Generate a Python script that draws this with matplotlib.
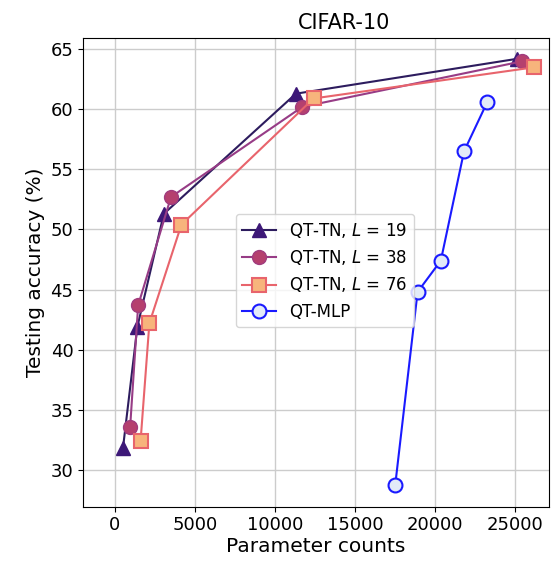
import matplotlib
matplotlib.use("Agg")
import matplotlib.pyplot as plt

# parameter counts / accuracies
params_l19 = [500, 1400, 3050, 11300, 25100]
acc_l19 = [31.8, 41.9, 51.3, 61.3, 64.2]
params_l38 = [950, 1450, 3500, 11700, 25450]
acc_l38 = [33.6, 43.7, 52.7, 60.2, 64.0]
params_l76 = [1600, 2150, 4150, 12400, 26200]
acc_l76 = [32.4, 42.2, 50.4, 60.9, 63.5]
params_mlp = [17500, 18900, 20350, 21800, 23250]
acc_mlp = [28.7, 44.8, 47.4, 56.5, 60.6]

fig = plt.figure(figsize=(5.55, 5.71), dpi=100)
ax = fig.add_axes([0.150, 0.1126, 0.839, 0.8217])

ax.plot(params_l19, acc_l19, "-^", color="#2d1c5e", mfc="#3d1878", mec="#3d1878",
        ms=10, lw=1.5, label=r"QT-TN, $L$ = 19")
ax.plot(params_l38, acc_l38, "-o", color="#973c86", mfc="#b5406e", mec="#a13c7e",
        ms=10, lw=1.5, label=r"QT-TN, $L$ = 38")
ax.plot(params_l76, acc_l76, "-s", color="#e8646c", mfc="#f7b47c", mec="#e8646c",
        ms=10, lw=1.5, mew=1.5, label=r"QT-TN, $L$ = 76")
ax.plot(params_mlp, acc_mlp, "-o", color="#1a1aff", mfc="#e3ebf8", mec="#1a1aff",
        ms=10, lw=1.5, mew=1.5, label="QT-MLP")

ax.set_xlim(-1980, 27100)
ax.set_xticks([0, 5000, 10000, 15000, 20000, 25000])
ax.set_yticks([30, 35, 40, 45, 50, 55, 60, 65])
ax.grid(True, color="#cccccc", lw=1)
ax.tick_params(labelsize=13)
ax.set_xlabel("Parameter counts", fontsize=14.5, labelpad=2)
ax.set_ylabel("Testing accuracy (%)", fontsize=14.5, labelpad=4)
ax.set_title("CIFAR-10", fontsize=15, x=0.56)
ax.legend(loc="center", bbox_to_anchor=(0.519, 0.503), fontsize=12)

fig.savefig("out.png", dpi=100)
